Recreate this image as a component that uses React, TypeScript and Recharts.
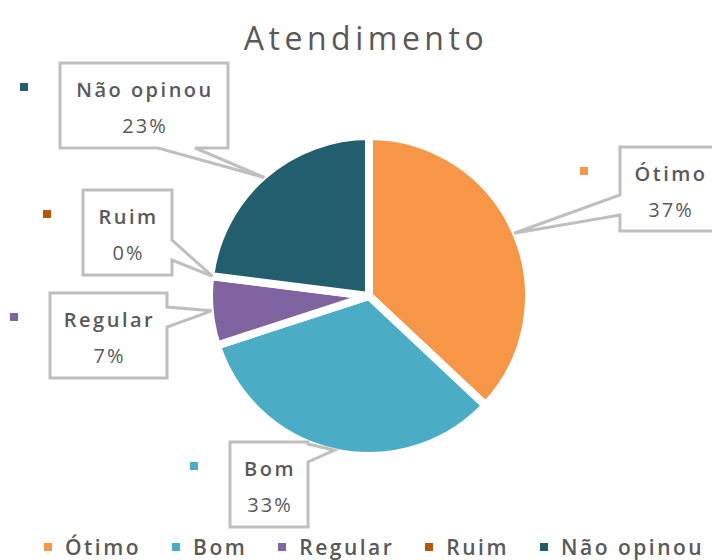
import React from 'react';
import { PieChart, Pie, Cell, Legend } from 'recharts';

const CATEGORIES = ['Ótimo', 'Bom', 'Regular', 'Ruim', 'Não opinou'];
const VALUES = [37, 33, 7, 0, 23];
const COLORS = ['#F79646', '#4BACC6', '#8064A2', '#B65708', '#235E6E'];
const TITLE = 'Atendimento';

// callout box placement, relative to the pie centre
const BOXES = [
  { dx: 251, dy: -149, w: 100, h: 84, side: 'left', a0: 48, a1: 68 },
  { dx: -139, dy: 146, w: 78, h: 85, side: 'right', a0: 2, a1: 20 },
  { dx: -319, dy: -3, w: 117, h: 85, side: 'right', a0: 14, a1: 34 },
  { dx: -286, dy: -106, w: 89, h: 85, side: 'right', a0: 50, a1: 70 },
  { dx: -309, dy: -233, w: 168, h: 85, side: 'bottom', a0: 98, a1: 135 },
];

const data = CATEGORIES.map((name, i) => ({ name, value: VALUES[i] }));

const FONT = '"Open Sans", "Noto Sans", sans-serif';
const TEXT = '#595959';
const RAD = Math.PI / 180;

function calloutPath(x: number, y: number, w: number, h: number, side: string, a0: number, a1: number, ax: number, ay: number) {
  const p: number[][] = [];
  p.push([x, y]);
  if (side === 'top') p.push([x + a0, y], [ax, ay], [x + a1, y]);
  p.push([x + w, y]);
  if (side === 'right') p.push([x + w, y + a0], [ax, ay], [x + w, y + a1]);
  p.push([x + w, y + h]);
  if (side === 'bottom') p.push([x + a1, y + h], [ax, ay], [x + a0, y + h]);
  p.push([x, y + h]);
  if (side === 'left') p.push([x, y + a1], [ax, ay], [x, y + a0]);
  return 'M' + p.map((q) => q.join(',')).join('L') + 'Z';
}

const renderLabel = (props: any) => {
  const { cx, cy, midAngle, outerRadius, index, percent, name } = props;
  const b = BOXES[index];
  const ax = cx + (outerRadius - 2) * Math.cos(-midAngle * RAD);
  const ay = cy + (outerRadius - 2) * Math.sin(-midAngle * RAD);
  const x = cx + b.dx;
  const y = cy + b.dy;
  return (
    <g key={'lbl' + index}>
      <path
        d={calloutPath(x, y, b.w, b.h, b.side, b.a0, b.a1, ax, ay)}
        fill="#ffffff"
        stroke="#BFBFBF"
        strokeWidth={3}
      />
      <rect x={x - 40} y={y + 20} width={8} height={8} fill={COLORS[index]} />
      <text
        x={x + b.w / 2 + 1}
        y={y + 34}
        textAnchor="middle"
        fontFamily={FONT}
        fontSize={20}
        fontWeight={600}
        fill={TEXT}
        style={{ letterSpacing: '2.5px' }}
      >
        {name}
      </text>
      <text
        x={x + b.w / 2 + 1}
        y={y + 70}
        textAnchor="middle"
        fontFamily={FONT}
        fontSize={20}
        fill={TEXT}
        style={{ letterSpacing: '2px' }}
      >
        {Math.round(percent * 100) + '%'}
      </text>
    </g>
  );
};

const renderLegend = () => (
  <div
    style={{
      display: 'flex',
      alignItems: 'center',
      paddingLeft: 44,
      height: 24,
      lineHeight: '24px',
      fontFamily: FONT,
      fontSize: 21,
      fontWeight: 600,
      color: TEXT,
      letterSpacing: '2.5px',
      whiteSpace: 'nowrap',
    }}
  >
    {CATEGORIES.map((c, i) => (
      <div key={c} style={{ display: 'flex', alignItems: 'center', marginRight: 31 }}>
        <span style={{ display: 'inline-block', width: 8, height: 8, background: COLORS[i], marginRight: 13 }} />
        <span>{c}</span>
      </div>
    ))}
  </div>
);

export default function App() {
  return (
    <div style={{ position: 'absolute', left: 0, top: 0, width: 712, height: 560, background: '#fff', overflow: 'hidden' }}>
      <div
        style={{
          position: 'absolute',
          left: 10,
          top: 16,
          width: 712,
          textAlign: 'center',
          fontFamily: FONT,
          fontSize: 32,
          lineHeight: '44px',
          color: TEXT,
          letterSpacing: '4.5px',
          zIndex: 2,
        }}
      >
        {TITLE}
      </div>
      <PieChart width={712} height={560} margin={{ top: 0, right: 0, bottom: 0, left: 0 }}>
        <Pie
          data={data}
          dataKey="value"
          nameKey="name"
          cx={369}
          cy={296}
          outerRadius={160}
          startAngle={90}
          endAngle={-270}
          stroke="#ffffff"
          strokeWidth={8}
          label={renderLabel}
          labelLine={false}
          isAnimationActive={false}
        >
          {data.map((d, i) => (
            <Cell key={d.name} fill={COLORS[i]} />
          ))}
        </Pie>
        <Legend
          content={renderLegend}
          wrapperStyle={{ position: 'absolute', left: 0, top: 535, width: 712 }}
        />
      </PieChart>
    </div>
  );
}
